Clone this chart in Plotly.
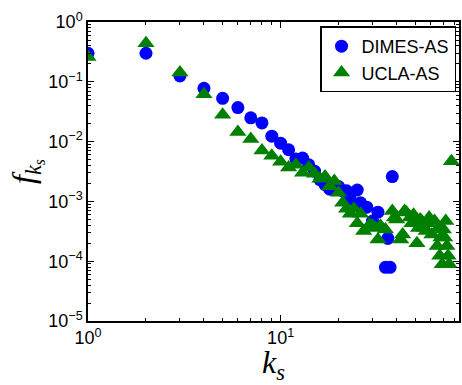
import plotly.graph_objects as go

# DIMES-AS (blue circles)
k_dimes = [1, 2, 3, 4, 5, 6, 7, 8, 9, 10, 11, 12, 13, 14, 15, 16, 17, 18, 20, 21,
           22, 23, 25, 26, 28, 30, 32, 35, 36, 37, 38]
f_dimes = [0.30, 0.30, 0.125, 0.078, 0.053, 0.037, 0.025, 0.0205, 0.0123, 0.0094,
           0.0073, 0.0051, 0.0053, 0.0041, 0.0032, 0.0023, 0.0019, 0.0016, 0.00177, 0.0015,
           0.0015, 0.0011, 0.00155, 0.00095, 0.0008, 0.00047, 0.00066, 7.9e-5, 0.00024, 7.9e-5,
           0.0026]

# UCLA-AS (green triangles)
k_ucla = [1, 2, 3, 4, 5, 6, 7, 8, 9, 10, 11, 12, 13, 14, 15, 16, 17, 18, 19, 20,
          21, 22, 23, 24, 25, 26, 27, 29, 30, 31, 32, 33, 35, 38, 39, 40, 42, 43, 44, 45,
          47, 48, 49, 51, 52, 53, 54, 56, 57, 58, 59, 61, 63, 65, 66, 67, 68, 69, 70, 71,
          72, 73, 74, 75, 77]
f_ucla = [0.26, 0.44, 0.143, 0.062, 0.028, 0.0145, 0.011, 0.0071, 0.0058, 0.0046,
          0.0037, 0.0041, 0.0030, 0.0037, 0.0029, 0.0024, 0.0026, 0.0018, 0.0022, 0.0014,
          0.00095, 0.00075, 0.00062, 0.00075, 0.00043, 0.00062, 0.00032, 0.00041, 0.00039, 0.00036,
          0.00023, 0.00039, 0.00034, 0.00069, 0.00054, 0.0005, 0.00023, 0.00028, 0.00069, 0.00065,
          0.00054, 0.00043, 0.0006, 0.0002, 0.00036, 0.0005, 0.00047, 0.00036, 0.00032, 0.00043,
          0.00054, 0.00028, 0.00047, 0.00018, 0.00036, 0.000123, 0.00025, 8.9e-5, 0.00034, 0.00025,
          0.00047, 0.00018, 0.000123, 8.9e-5, 0.0047]

x_tickvals = [1, 10]
x_ticktext = ["10<sup>0</sup>", "10<sup>1</sup>"]
y_tickvals = [1e-5, 1e-4, 1e-3, 1e-2, 1e-1, 1]
y_ticktext = ["10<sup>\u22125</sup>", "10<sup>\u22124</sup>", "10<sup>\u22123</sup>",
              "10<sup>\u22122</sup>", "10<sup>\u22121</sup>", "10<sup>0</sup>"]

minor_x = [m * 10 ** e for e in range(0, 2) for m in range(2, 10)]
minor_y = [m * 10.0 ** e for e in range(-5, 0) for m in range(2, 10)]

fig = go.Figure()
fig.add_trace(go.Scatter(x=k_dimes, y=f_dimes, mode="markers", name="DIMES-AS",
                         marker=dict(symbol="circle", size=13, color="#0000FF",
                                     line=dict(width=0))))
fig.add_trace(go.Scatter(x=k_ucla, y=f_ucla, mode="markers", name="UCLA-AS",
                         marker=dict(symbol="triangle-up", size=15, color="#008000",
                                     line=dict(width=0))))

axis_common = dict(showline=True, linecolor="black", linewidth=1.5, mirror="ticks",
                   ticks="inside", ticklen=6, tickwidth=1, tickcolor="black",
                   showgrid=False, zeroline=False,
                   tickfont=dict(family="Liberation Sans, Arial", size=18, color="black"))

fig.update_xaxes(type="log", range=[0, 1.926], tickmode="array", tickvals=x_tickvals,
                 ticktext=x_ticktext,
                 minor=dict(ticks="inside", ticklen=3, tickcolor="black", tickmode="array",
                            tickvals=minor_x, showgrid=False),
                 title=dict(text="<i>k</i><sub><i>s</i></sub>",
                            font=dict(family="Liberation Serif, Times New Roman", size=32,
                                      color="black"), standoff=4),
                 **axis_common)
fig.update_yaxes(type="log", range=[-5, 0], tickmode="array", tickvals=y_tickvals,
                 ticktext=y_ticktext,
                 minor=dict(ticks="inside", ticklen=3, tickcolor="black", tickmode="array",
                            tickvals=minor_y, showgrid=False),
                 title=dict(text="<i>f</i><sub><i>k<sub>s</sub></i></sub>",
                            font=dict(family="Liberation Serif, Times New Roman", size=32,
                                      color="black"), standoff=4),
                 **axis_common)

fig.update_layout(
    width=462, height=385,
    margin=dict(l=88, r=1, t=22, b=64),
    plot_bgcolor="white", paper_bgcolor="white",
    showlegend=True,
    legend=dict(x=0.992, y=0.985, xanchor="right", yanchor="top",
                bordercolor="black", borderwidth=1.5, bgcolor="white",
                font=dict(family="Liberation Sans, Arial", size=18, color="black"),
                itemwidth=30, tracegroupgap=0),
)

fig.write_html("out.html")
